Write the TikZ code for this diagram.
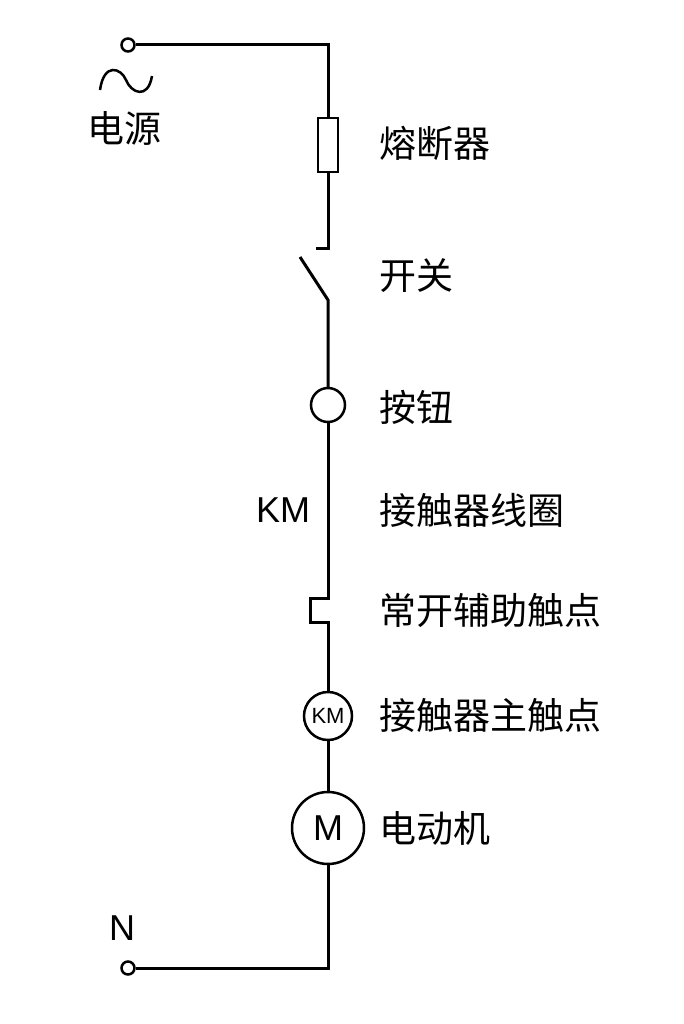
\documentclass[tikz,border=0pt]{standalone}
\usepackage{fontspec}
\setmainfont{Noto Sans CJK SC}
\newfontfamily\latinf{Liberation Sans}
\begin{document}
\begin{tikzpicture}[x=1pt,y=-1pt,line width=3pt,
  lbl/.style={anchor=west,font=\fontsize{37}{40}\selectfont,inner sep=0},
  term/.style={circle,draw,line width=2.5pt,fill=white,minimum size=13pt,inner sep=0}]
\useasboundingbox (0,0) rectangle (683,1024);
\node[term] (t1) at (128,45) {};
\node[term] (t2) at (128,968) {};
\coordinate (c1) at (328,45);
\node[draw,line width=2.5pt,minimum width=20pt,minimum height=54pt,inner sep=0] (fuse) at (328,145) {};
\coordinate (s1) at (328,248);
\coordinate (s1l) at (316,248);
\coordinate (sa) at (300,257);
\coordinate (sb) at (328,300);
\node[circle,draw,line width=2.5pt,minimum size=34pt,inner sep=0] (btn) at (328,405) {};
\coordinate (k1) at (328,598);
\coordinate (k2) at (310,598);
\coordinate (k3) at (310,622);
\coordinate (k4) at (328,622);
\node[circle,draw,line width=2.5pt,minimum size=48pt,inner sep=0,font=\latinf\fontsize{22}{24}\selectfont] (km) at (328,716) {KM};
\node[circle,draw,line width=2.5pt,minimum size=72pt,inner sep=0,font=\latinf\fontsize{36}{38}\selectfont] (m) at (328,828) {M};
\coordinate (c2) at (328,968);
\draw (t1) -- (c1) -- (fuse.north);
\draw (fuse.south) -- (s1) -- (s1l);
\draw (sa) -- (sb) -- (btn.north);
\draw (btn.south) -- (k1) -- (k2) -- (k3) -- (k4) -- (km.north);
\draw (km.south) -- (m.north);
\draw (m.south) -- (c2) -- (t2);
\draw[line width=2.5pt] (100,90) .. controls (104,62) and (121,68) .. (126,80) .. controls (131,93) and (148,100) .. (152,76);
\node[font=\fontsize{37}{40}\selectfont] (src) at (124,128) {电源};
\node[font=\latinf\fontsize{36}{38}\selectfont] (n) at (122,928) {N};
\node[font=\latinf\fontsize{36}{38}\selectfont] (kml) at (283,510) {KM};
\node[lbl] at (378,143) {熔断器};
\node[lbl] at (378,276) {开关};
\node[lbl] at (378,407) {按钮};
\node[lbl] at (378,510) {接触器线圈};
\node[lbl] at (378,610) {常开辅助触点};
\node[lbl] at (378,715) {接触器主触点};
\node[lbl] at (378,828) {电动机};
\end{tikzpicture}
\end{document}
